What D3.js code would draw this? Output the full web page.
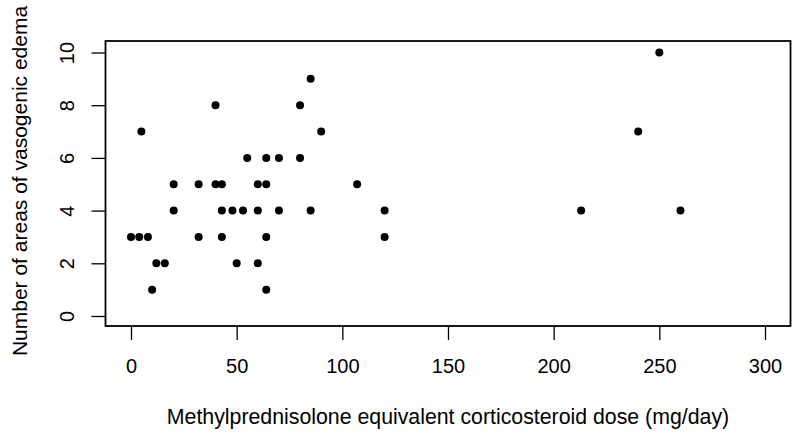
<!DOCTYPE html>
<html><head><meta charset="utf-8">
<script src="https://cdn.jsdelivr.net/npm/d3@7"></script>
<style>body{margin:0;background:#fff;} text{font-family:"Liberation Sans",Arial,sans-serif;fill:#000;}</style>
</head><body>
<svg id="chart" width="800" height="436"></svg>
<script>
const doseValues  = [0, 3.9, 8, 4.9, 10, 12, 16, 20.2, 20.2, 32, 32, 40, 40, 43, 43, 43, 48, 50, 53, 55, 60, 60, 60, 64, 64, 64, 64, 70, 70, 80, 80, 85, 85, 90, 107, 120, 120, 213, 240, 250, 260];
const edemaValues = [3, 3, 3, 7, 1, 2, 2, 5, 4, 5, 3, 8, 5, 5, 4, 3, 4, 2, 4, 6, 5, 4, 2, 6, 5, 3, 1, 6, 4, 8, 6, 9, 4, 7, 5, 4, 3, 4, 7, 10, 4];
const xTicks = [0, 50, 100, 150, 200, 250, 300];
const yTicks = [0, 2, 4, 6, 8, 10];
const xTitle = "Methylprednisolone equivalent corticosteroid dose (mg/day)";
const yTitle = "Number of areas of vasogenic edema";

const svg = d3.select("#chart");
const box = {left: 105.5, right: 790.5, top: 41, bottom: 326};
const x = d3.scaleLinear().domain([0, 300]).range([131, 765]);
const y = d3.scaleLinear().domain([0, 10]).range([316, 52.5]);

svg.append("rect").attr("x", box.left).attr("y", box.top)
  .attr("width", box.right - box.left).attr("height", box.bottom - box.top)
  .attr("fill", "none").attr("stroke", "#000").attr("stroke-width", 1.8);

const xAxis = svg.append("g").attr("transform", `translate(0,${box.bottom})`)
  .call(d3.axisBottom(x).tickValues(xTicks).tickSize(14).tickPadding(19).tickFormat(d3.format("d")));
xAxis.select(".domain").remove();
xAxis.selectAll("line").attr("stroke-width", 1.3);
xAxis.selectAll("text").attr("font-size", 20).attr("font-family", "Liberation Sans, Arial, sans-serif");

const yAxis = svg.append("g").attr("transform", `translate(${box.left},0)`)
  .call(d3.axisLeft(y).tickValues(yTicks).tickSize(14).tickFormat(d3.format("d")));
yAxis.select(".domain").remove();
yAxis.selectAll("line").attr("stroke-width", 1.3);
yAxis.selectAll("text").attr("font-size", 20).attr("font-family", "Liberation Sans, Arial, sans-serif")
  .attr("x", null)
  .attr("text-anchor", "middle")
  .attr("transform", "translate(-39,0) rotate(-90)")
  .attr("dy", "0.35em");

svg.append("g").selectAll("circle")
  .data(doseValues.map((d, i) => ({d, e: edemaValues[i]})))
  .join("circle")
  .attr("cx", p => x(p.d)).attr("cy", p => y(p.e)).attr("r", 4).attr("fill", "#000");

svg.append("text").attr("x", (box.left + box.right) / 2).attr("y", 417).attr("dy", "0.35em")
  .attr("text-anchor", "middle").attr("font-size", 21.3).text(xTitle);
svg.append("text").attr("transform", `translate(20,181) rotate(-90)`)
  .attr("dy", "0.35em").attr("text-anchor", "middle").attr("font-size", 21).text(yTitle);
</script>
</body></html>
